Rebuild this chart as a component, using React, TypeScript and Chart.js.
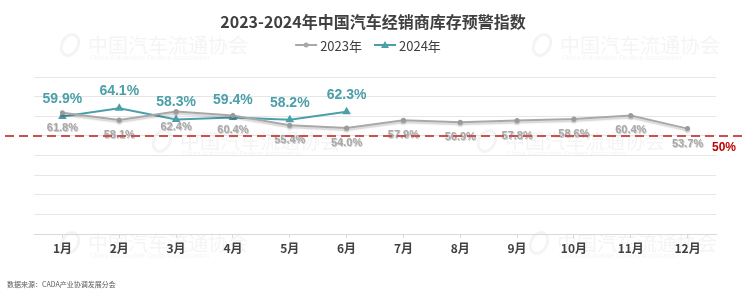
import { useEffect, useRef } from "react";
import { Chart, registerables } from "chart.js";

Chart.register(...registerables);

// Chart data
const months = ["1月", "2月", "3月", "4月", "5月", "6月", "7月", "8月", "9月", "10月", "11月", "12月"];
const index2023 = [61.8, 58.1, 62.4, 60.4, 55.4, 54.0, 57.9, 56.9, 57.8, 58.6, 60.4, 53.7];
const index2024 = [59.9, 64.1, 58.3, 59.4, 58.2, 62.3];
const seriesNames = ["2023年", "2024年"];
const warningLevel = 50;
const yMin = 0;
const yMax = 80;
const yStep = 10;

// Text
const titleText = "2023-2024年中国汽车经销商库存预警指数";
const sourceText = "数据来源：CADA产业协调发展分会";
const watermarkCn = "中国汽车流通协会";
const watermarkEn = "China Automobile Dealers Association";

const W = 744;
const H = 296;
const GRAY = "#a8a8a8";
const TEAL = "#4a9fa9";
const CJK = "'Noto Sans CJK SC', 'Noto Sans', sans-serif";
const NUM = "'Liberation Sans', Arial, sans-serif";

const decorPlugin = {
  id: "decor",
  beforeDraw(chart: any) {
    const ctx = chart.ctx;
    ctx.save();
    ctx.fillStyle = "#ffffff";
    ctx.fillRect(0, 0, W, H);

    // faint association watermarks
    const marks = [
      [88, 45],
      [560, 45],
      [180, 141],
      [505, 141],
      [88, 243],
      [557, 243],
    ];
    marks.forEach(([x, y]) => {
      ctx.fillStyle = "rgba(120,120,120,0.08)";
      ctx.font = `20px ${CJK}`;
      ctx.textAlign = "left";
      ctx.textBaseline = "middle";
      ctx.fillText(watermarkCn, x, y);
      ctx.font = `7px ${NUM}`;
      ctx.fillText(watermarkEn, x + 2, y + 13);
      ctx.beginPath();
      ctx.strokeStyle = "rgba(120,120,120,0.08)";
      ctx.lineWidth = 3;
      ctx.ellipse(x - 18, y, 8, 11, 0.5, 0, Math.PI * 2);
      ctx.stroke();
    });

    // title
    ctx.fillStyle = "#404040";
    ctx.font = `bold 16px ${CJK}`;
    ctx.textAlign = "center";
    ctx.textBaseline = "middle";
    ctx.fillText(titleText, 373, 22);

    // legend
    ctx.font = `13px ${CJK}`;
    const lineLen = 22;
    const gapText = 3;
    const gapItem = 12;
    const widths = seriesNames.map((n) => lineLen + gapText + ctx.measureText(n).width);
    const total = widths[0] + widths[1] + gapItem;
    let lx = 368 - total / 2;
    const ly = 45;
    seriesNames.forEach((name, i) => {
      const color = i === 0 ? GRAY : TEAL;
      ctx.strokeStyle = color;
      ctx.lineWidth = 2;
      ctx.beginPath();
      ctx.moveTo(lx, ly);
      ctx.lineTo(lx + lineLen, ly);
      ctx.stroke();
      ctx.fillStyle = color;
      const cx = lx + lineLen / 2;
      ctx.beginPath();
      if (i === 0) {
        ctx.arc(cx, ly, 2.5, 0, Math.PI * 2);
      } else {
        ctx.moveTo(cx, ly - 4);
        ctx.lineTo(cx + 4, ly + 3);
        ctx.lineTo(cx - 4, ly + 3);
        ctx.closePath();
      }
      ctx.fill();
      ctx.fillStyle = "#404040";
      ctx.textAlign = "left";
      ctx.fillText(name, lx + lineLen + gapText, ly + 1);
      lx += widths[i] + gapItem;
    });

    // source note
    ctx.fillStyle = "#595959";
    ctx.font = `7px ${CJK}`;
    ctx.textAlign = "left";
    ctx.textBaseline = "middle";
    ctx.fillText(sourceText, 7, 284);
    ctx.restore();
  },
  beforeDatasetDraw(chart: any, args: any) {
    const ctx = chart.ctx;
    ctx.save();
    if (args.index === 0) {
      ctx.shadowColor = "rgba(0,0,0,0.18)";
      ctx.shadowBlur = 1.5;
      ctx.shadowOffsetY = 2;
    }
  },
  afterDatasetDraw(chart: any) {
    chart.ctx.restore();
  },
  afterDatasetsDraw(chart: any) {
    const ctx = chart.ctx;
    const y = chart.scales.y;
    ctx.save();
    ctx.textAlign = "center";
    ctx.textBaseline = "middle";

    // 2023 value labels, below the points
    const m0 = chart.getDatasetMeta(0);
    ctx.font = `bold 11px ${NUM}`;
    m0.data.forEach((pt: any, i: number) => {
      const txt = index2023[i].toFixed(1) + "%";
      ctx.fillStyle = "rgba(90,90,90,0.3)";
      ctx.fillText(txt, pt.x + 0.8, pt.y + 16);
      ctx.fillStyle = GRAY;
      ctx.fillText(txt, pt.x, pt.y + 15);
    });

    // warning line
    const wy = y.getPixelForValue(warningLevel);
    ctx.strokeStyle = "#c9524f";
    ctx.lineWidth = 2;
    ctx.setLineDash([9, 5]);
    ctx.beginPath();
    ctx.moveTo(5, wy);
    ctx.lineTo(W, wy);
    ctx.stroke();
    ctx.setLineDash([]);
    ctx.fillStyle = "#c00000";
    ctx.font = `bold 12px ${NUM}`;
    ctx.fillText(warningLevel + "%", 724, wy + 12);

    // 2024 value labels, above the points
    const m1 = chart.getDatasetMeta(1);
    ctx.font = `bold 14px ${NUM}`;
    ctx.fillStyle = TEAL;
    m1.data.forEach((pt: any, i: number) => {
      ctx.fillText(index2024[i].toFixed(1) + "%", pt.x, pt.y - 17);
    });
    ctx.restore();
  },
};

export default function App() {
  const ref = useRef<HTMLCanvasElement>(null);

  useEffect(() => {
    if (!ref.current) return;
    const chart = new Chart(ref.current, {
      type: "line",
      data: {
        labels: months,
        datasets: [
          {
            label: seriesNames[0],
            data: index2023,
            borderColor: GRAY,
            backgroundColor: "#9a9a9a",
            borderWidth: 2,
            pointStyle: "circle",
            pointRadius: 2.5,
            pointBorderWidth: 0,
            tension: 0,
          },
          {
            label: seriesNames[1],
            data: index2024,
            borderColor: TEAL,
            backgroundColor: TEAL,
            borderWidth: 2,
            pointStyle: "triangle",
            pointRadius: 5,
            pointBorderWidth: 0,
            tension: 0,
          },
        ],
      },
      options: {
        responsive: false,
        animation: false,
        devicePixelRatio: 1,
        layout: { padding: { top: 77, left: 34, right: 28, bottom: 0 } },
        plugins: {
          legend: { display: false },
          title: { display: false },
          tooltip: { enabled: false },
        },
        scales: {
          x: {
            offset: true,
            grid: {
              drawOnChartArea: false,
              drawTicks: true,
              tickLength: 4,
              color: "#d9d9d9",
            },
            border: { color: "#d9d9d9", width: 1 },
            ticks: {
              color: "#404040",
              font: { family: CJK, size: 12, weight: "bold" },
              padding: 3,
              maxRotation: 0,
            },
            afterFit: (s: any) => {
              s.height = 62;
            },
          },
          y: {
            min: yMin,
            max: yMax,
            ticks: { display: false, stepSize: yStep },
            grid: { color: "#e6e6e6", drawTicks: false, lineWidth: 1 },
            border: { display: false },
            afterFit: (s: any) => {
              s.width = 0;
            },
          },
        },
      },
      plugins: [decorPlugin],
    });
    return () => chart.destroy();
  }, []);

  return (
    <div style={{ position: "absolute", left: 0, top: 0, width: W, height: H }}>
      <canvas ref={ref} width={W} height={H} style={{ display: "block", width: W, height: H }} />
    </div>
  );
}
